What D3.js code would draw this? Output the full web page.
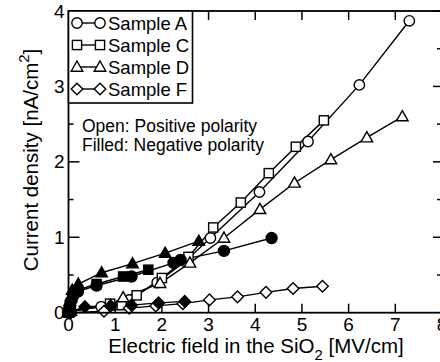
<!DOCTYPE html>
<html>
<head>
<meta charset="utf-8">
<script src="https://cdn.jsdelivr.net/npm/d3@7"></script>
<style>
  html, body { margin: 0; padding: 0; background: #fff; }
  svg { display: block; font-family: "Liberation Sans", Arial, sans-serif; }
</style>
</head>
<body>
<div id="chart"></div>
<script>
// Data: [field MV/cm, current nA/cm^2]
const sampleAPos = [[0.05, 0.02], [0.7, 0.08], [1.3, 0.17], [1.9, 0.4], [2.5, 0.68], [3.04, 0.99], [4.09, 1.6], [5.13, 2.27], [6.23, 3.02], [7.3, 3.87]];
const sampleCPos = [[0.05, 0.02], [0.89, 0.12], [1.14, 0.1], [1.46, 0.23], [2.0, 0.46], [2.57, 0.74], [3.1, 1.13], [3.69, 1.46], [4.29, 1.85], [4.87, 2.2], [5.47, 2.55]];
const sampleDPos = [[0.05, 0.02], [0.9, 0.1], [1.17, 0.2], [1.96, 0.39], [2.6, 0.66], [3.33, 0.99], [4.1, 1.37], [4.84, 1.72], [5.62, 2.03], [6.39, 2.32], [7.15, 2.6]];
const sampleFPos = [[0.05, 0.0], [0.76, 0.02], [1.3, 0.06], [1.87, 0.09], [2.45, 0.12], [3.02, 0.17], [3.62, 0.21], [4.23, 0.27], [4.81, 0.32], [5.44, 0.35]];

const sampleANeg = [[0, 0], [0.02, 0.08], [0.05, 0.15], [0.1, 0.22], [0.2, 0.28], [0.6, 0.36], [1.35, 0.48], [2.25, 0.66], [2.4, 0.7], [3.33, 0.82], [4.35, 0.99]];
const sampleCNeg = [[0, 0], [0.03, 0.1], [0.08, 0.2], [0.2, 0.3], [0.6, 0.38], [1.17, 0.48], [1.71, 0.57]];
const sampleDNeg = [[0, 0], [0.03, 0.15], [0.08, 0.3], [0.21, 0.38], [0.71, 0.53], [1.37, 0.65], [2.07, 0.79], [2.79, 0.95]];
const sampleFNeg = [[0, 0], [0.35, 0.08], [0.9, 0.09], [1.35, 0.1], [1.93, 0.13], [2.49, 0.15]];

const xTicks = [0, 1, 2, 3, 4, 5, 6, 7, 8];
const yTicks = [0, 1, 2, 3, 4];
const yMinorTicks = [0.5, 1.5, 2.5, 3.5];
const legendLabels = ['Sample A', 'Sample C', 'Sample D', 'Sample F'];
const legendShapes = ['circle', 'square', 'triangle', 'diamond'];

const series = [
  { data: sampleAPos, shape: 'circle', filled: false },
  { data: sampleCPos, shape: 'square', filled: false },
  { data: sampleDPos, shape: 'triangle', filled: false },
  { data: sampleFPos, shape: 'diamond', filled: false },
  { data: sampleANeg, shape: 'circle', filled: true },
  { data: sampleCNeg, shape: 'square', filled: true },
  { data: sampleDNeg, shape: 'triangle', filled: true },
  { data: sampleFNeg, shape: 'diamond', filled: true }
];

const width = 440;
const height = 362;
const plot = { left: 68.5, right: 442, top: 11, bottom: 312.7 };

const x = d3.scaleLinear().domain([0, 8]).range([plot.left, plot.right]);
const y = d3.scaleLinear().domain([0, 4]).range([plot.bottom, plot.top]);

const svg = d3.select('#chart').append('svg')
  .attr('width', width)
  .attr('height', height);

function marker(sel, shape, filled) {
  const fill = filled ? '#000' : '#fff';
  let p;
  if (shape === 'circle') {
    p = sel.append('circle').attr('r', filled ? 5.5 : 5.2);
  } else if (shape === 'square') {
    p = sel.append('rect').attr('x', -4.6).attr('y', -4.6).attr('width', 9.2).attr('height', 9.2);
  } else if (shape === 'triangle') {
    p = sel.append('path').attr('d', 'M0,-6L5.8,4.2L-5.8,4.2Z');
  } else {
    p = sel.append('path').attr('d', 'M0,-5.8L5.8,0L0,5.8L-5.8,0Z');
  }
  p.attr('fill', fill).attr('stroke', '#000').attr('stroke-width', 1.4);
}

const line = d3.line().x((d) => x(d[0])).y((d) => y(d[1]));

// lines first, then markers
series.forEach((s) => {
  svg.append('path')
    .datum(s.data)
    .attr('fill', 'none')
    .attr('stroke', '#000')
    .attr('stroke-width', 1.4)
    .attr('d', line);
});

series.forEach((s) => {
  svg.append('g')
    .selectAll('g')
    .data(s.data)
    .join('g')
    .attr('transform', (d) => `translate(${x(d[0])},${y(d[1])})`)
    .each(function () { marker(d3.select(this), s.shape, s.filled); });
});

// frame
svg.append('rect')
  .attr('x', plot.left)
  .attr('y', plot.top)
  .attr('width', plot.right - plot.left)
  .attr('height', plot.bottom - plot.top)
  .attr('fill', 'none')
  .attr('stroke', '#000')
  .attr('stroke-width', 1.8);

// inward ticks
const tickGroup = svg.append('g').attr('stroke', '#000').attr('stroke-width', 1.5);
xTicks.slice(1, -1).forEach((t) => {
  tickGroup.append('line').attr('x1', x(t)).attr('x2', x(t)).attr('y1', plot.bottom).attr('y2', plot.bottom - 9);
  tickGroup.append('line').attr('x1', x(t)).attr('x2', x(t)).attr('y1', plot.top).attr('y2', plot.top + 9);
});
yTicks.slice(1).forEach((t) => {
  tickGroup.append('line').attr('x1', plot.left).attr('x2', plot.left + 11).attr('y1', y(t)).attr('y2', y(t));
  tickGroup.append('line').attr('x1', plot.right).attr('x2', plot.right - 9).attr('y1', y(t)).attr('y2', y(t));
});
yMinorTicks.forEach((t) => {
  tickGroup.append('line').attr('x1', plot.left).attr('x2', plot.left + 5).attr('y1', y(t)).attr('y2', y(t));
  tickGroup.append('line').attr('x1', plot.right).attr('x2', plot.right - 5).attr('y1', y(t)).attr('y2', y(t));
});

// tick labels
svg.append('g')
  .selectAll('text')
  .data(xTicks)
  .join('text')
  .attr('x', (d) => x(d))
  .attr('y', plot.bottom + 18)
  .attr('text-anchor', 'middle')
  .attr('font-size', 19)
  .attr('fill', '#000')
  .text((d) => d);

svg.append('g')
  .selectAll('text')
  .data(yTicks)
  .join('text')
  .attr('x', plot.left - 4)
  .attr('y', (d) => y(d) + 6.5)
  .attr('text-anchor', 'end')
  .attr('font-size', 19)
  .attr('fill', '#000')
  .text((d) => d);

// axis titles
const xTitle = svg.append('text')
  .attr('x', 256)
  .attr('y', 353)
  .attr('text-anchor', 'middle')
  .attr('font-size', 20.5)
  .attr('fill', '#000');
xTitle.append('tspan').text('Electric field in the SiO');
xTitle.append('tspan').attr('font-size', 15).attr('dy', 7).text('2');
xTitle.append('tspan').attr('dy', -7).text(' [MV/cm]');

const yTitle = svg.append('text')
  .attr('transform', 'translate(38,160) rotate(-90)')
  .attr('text-anchor', 'middle')
  .attr('font-size', 20.5)
  .attr('fill', '#000');
yTitle.append('tspan').text('Current density [nA/cm');
yTitle.append('tspan').attr('font-size', 15).attr('dy', -9).text('2');
yTitle.append('tspan').attr('dy', 9).text(']');

// legend
const legend = svg.append('g');
legend.append('rect')
  .attr('x', plot.left)
  .attr('y', plot.top)
  .attr('width', 124)
  .attr('height', 92)
  .attr('fill', '#fff')
  .attr('stroke', '#000')
  .attr('stroke-width', 1.6);

legendLabels.forEach((label, i) => {
  const cy = 23 + i * 22;
  const row = legend.append('g');
  row.append('line')
    .attr('x1', 77).attr('x2', 100).attr('y1', cy).attr('y2', cy)
    .attr('stroke', '#000').attr('stroke-width', 1.4);
  [77, 100].forEach((mx) => {
    const g = row.append('g').attr('transform', `translate(${mx},${cy})`);
    marker(g, legendShapes[i], false);
  });
  row.append('text')
    .attr('x', 108)
    .attr('y', cy + 6.5)
    .attr('font-size', 18.5)
    .attr('fill', '#000')
    .text(label);
});

// note
svg.append('text').attr('x', 82).attr('y', 132).attr('font-size', 17.5).attr('fill', '#000').text('Open: Positive polarity');
svg.append('text').attr('x', 82).attr('y', 151).attr('font-size', 17.5).attr('fill', '#000').text('Filled: Negative polarity');
</script>
</body>
</html>
